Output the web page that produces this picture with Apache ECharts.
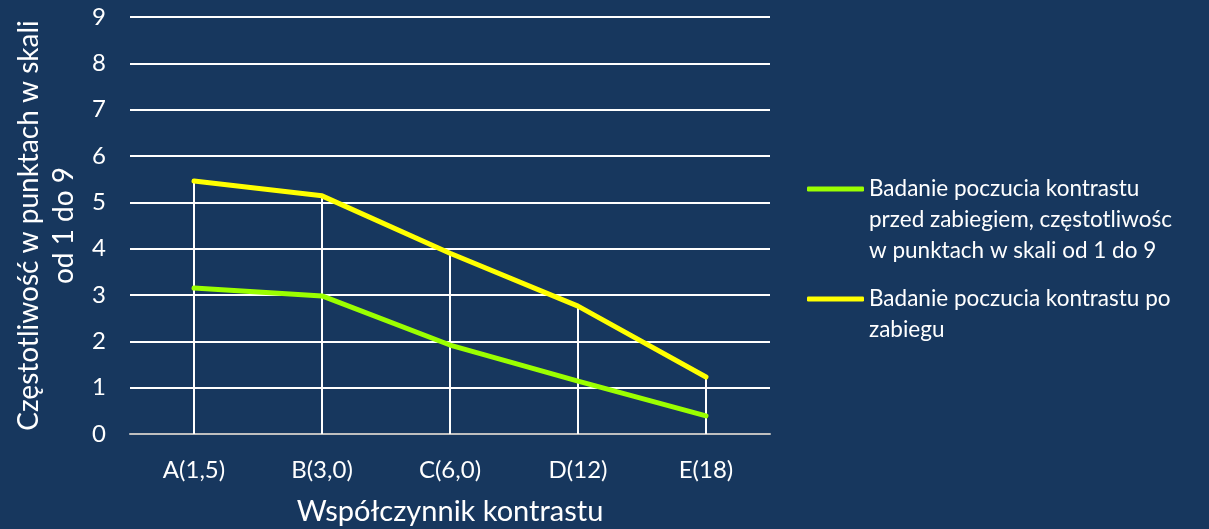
<!DOCTYPE html>
<html>
<head>
<meta charset="utf-8">
<script src="https://cdn.jsdelivr.net/npm/echarts@6/dist/echarts.min.js"></script>
<style>
  html, body { margin: 0; padding: 0; background: #17375E; }
  #chart { width: 1209px; height: 529px; }
</style>
</head>
<body>
<div id="chart"></div>
<script>
// Contrast-sensitivity scores per contrast coefficient
const categories = ['A(1,5)', 'B(3,0)', 'C(6,0)', 'D(12)', 'E(18)'];
const beforeValues = [3.15, 2.98, 1.92, 1.14, 0.39];
const afterValues = [5.46, 5.14, 3.90, 2.76, 1.23];
const yTicks = { min: 0, max: 9, interval: 1 };

const nameBefore = 'Badanie poczucia kontrastu przed zabiegiem, częstotliwośc w punktach w skali od 1 do 9';
const nameAfter = 'Badanie poczucia kontrastu po zabiegu';

const FONT = 'Lato, "Open Sans", sans-serif';
const TEXT = '#ffffff';

// vertical drop lines from the highest point of each category down to 0
const dropData = categories.map((c, i) => [i, Math.max(beforeValues[i], afterValues[i])]);

const chart = echarts.init(document.getElementById('chart'), null, { renderer: 'canvas' });

const legendBase = {
  orient: 'vertical',
  left: 807,
  padding: 0,
  itemWidth: 57,
  itemHeight: 5,
  itemGap: 5,
  icon: 'roundRect',
  selectedMode: false,
  textStyle: { color: TEXT, fontFamily: FONT, fontSize: 22.5, lineHeight: 31 }
};

// Legend labels start on the icon's row: leading blank lines keep the
// first text line vertically centred on the icon.
chart.setOption({
  backgroundColor: '#17375E',
  animation: false,
  textStyle: { fontFamily: FONT },
  grid: { left: 130, right: 439, top: 17, bottom: 95, containLabel: false, outerBoundsMode: 'none' },
  legend: [
    Object.assign({}, legendBase, {
      top: 111.5,
      data: [nameBefore],
      formatter: () => '\n\nBadanie poczucia kontrastu\nprzed zabiegiem, częstotliwośc\nw punktach w skali od 1 do 9'
    }),
    Object.assign({}, legendBase, {
      top: 252.5,
      data: [nameAfter],
      formatter: () => '\nBadanie poczucia kontrastu po\nzabiegu'
    })
  ],
  xAxis: {
    type: 'category',
    data: categories,
    boundaryGap: true,
    axisLine: { show: true, lineStyle: { color: '#bfbfbf', width: 2 } },
    axisTick: { show: false },
    axisLabel: { color: TEXT, fontFamily: FONT, fontSize: 24, margin: 24 },
    name: 'Współczynnik kontrastu',
    nameLocation: 'middle',
    nameGap: 63,
    nameTextStyle: { color: TEXT, fontFamily: FONT, fontSize: 29 }
  },
  yAxis: {
    type: 'value',
    min: yTicks.min,
    max: yTicks.max,
    interval: yTicks.interval,
    axisLine: { show: false },
    axisTick: { show: false },
    axisLabel: { color: TEXT, fontFamily: FONT, fontSize: 24, margin: 24 },
    splitLine: { show: true, lineStyle: { color: '#ffffff', width: 2 } },
    name: 'Częstotliwość w punktach w skali\nod 1 do 9',
    nameLocation: 'middle',
    nameRotate: 90,
    nameGap: 49,
    nameTextStyle: { color: TEXT, fontFamily: FONT, fontSize: 28, lineHeight: 35, align: 'center' }
  },
  series: [
    {
      type: 'custom',
      name: 'drop',
      z: 1,
      silent: true,
      data: dropData,
      renderItem: function (params, api) {
        const top = api.coord([api.value(0), api.value(1)]);
        const bottom = api.coord([api.value(0), 0]);
        return {
          type: 'line',
          shape: { x1: top[0], y1: top[1], x2: bottom[0], y2: bottom[1] },
          style: { stroke: '#ffffff', lineWidth: 2 }
        };
      }
    },
    {
      type: 'line',
      name: nameBefore,
      data: beforeValues,
      z: 3,
      symbol: 'none',
      color: '#9BFF00',
      lineStyle: { color: '#9BFF00', width: 5, cap: 'round' }
    },
    {
      type: 'line',
      name: nameAfter,
      data: afterValues,
      z: 3,
      symbol: 'none',
      color: '#FFFF00',
      lineStyle: { color: '#FFFF00', width: 5, cap: 'round' }
    }
  ]
});
</script>
</body>
</html>
